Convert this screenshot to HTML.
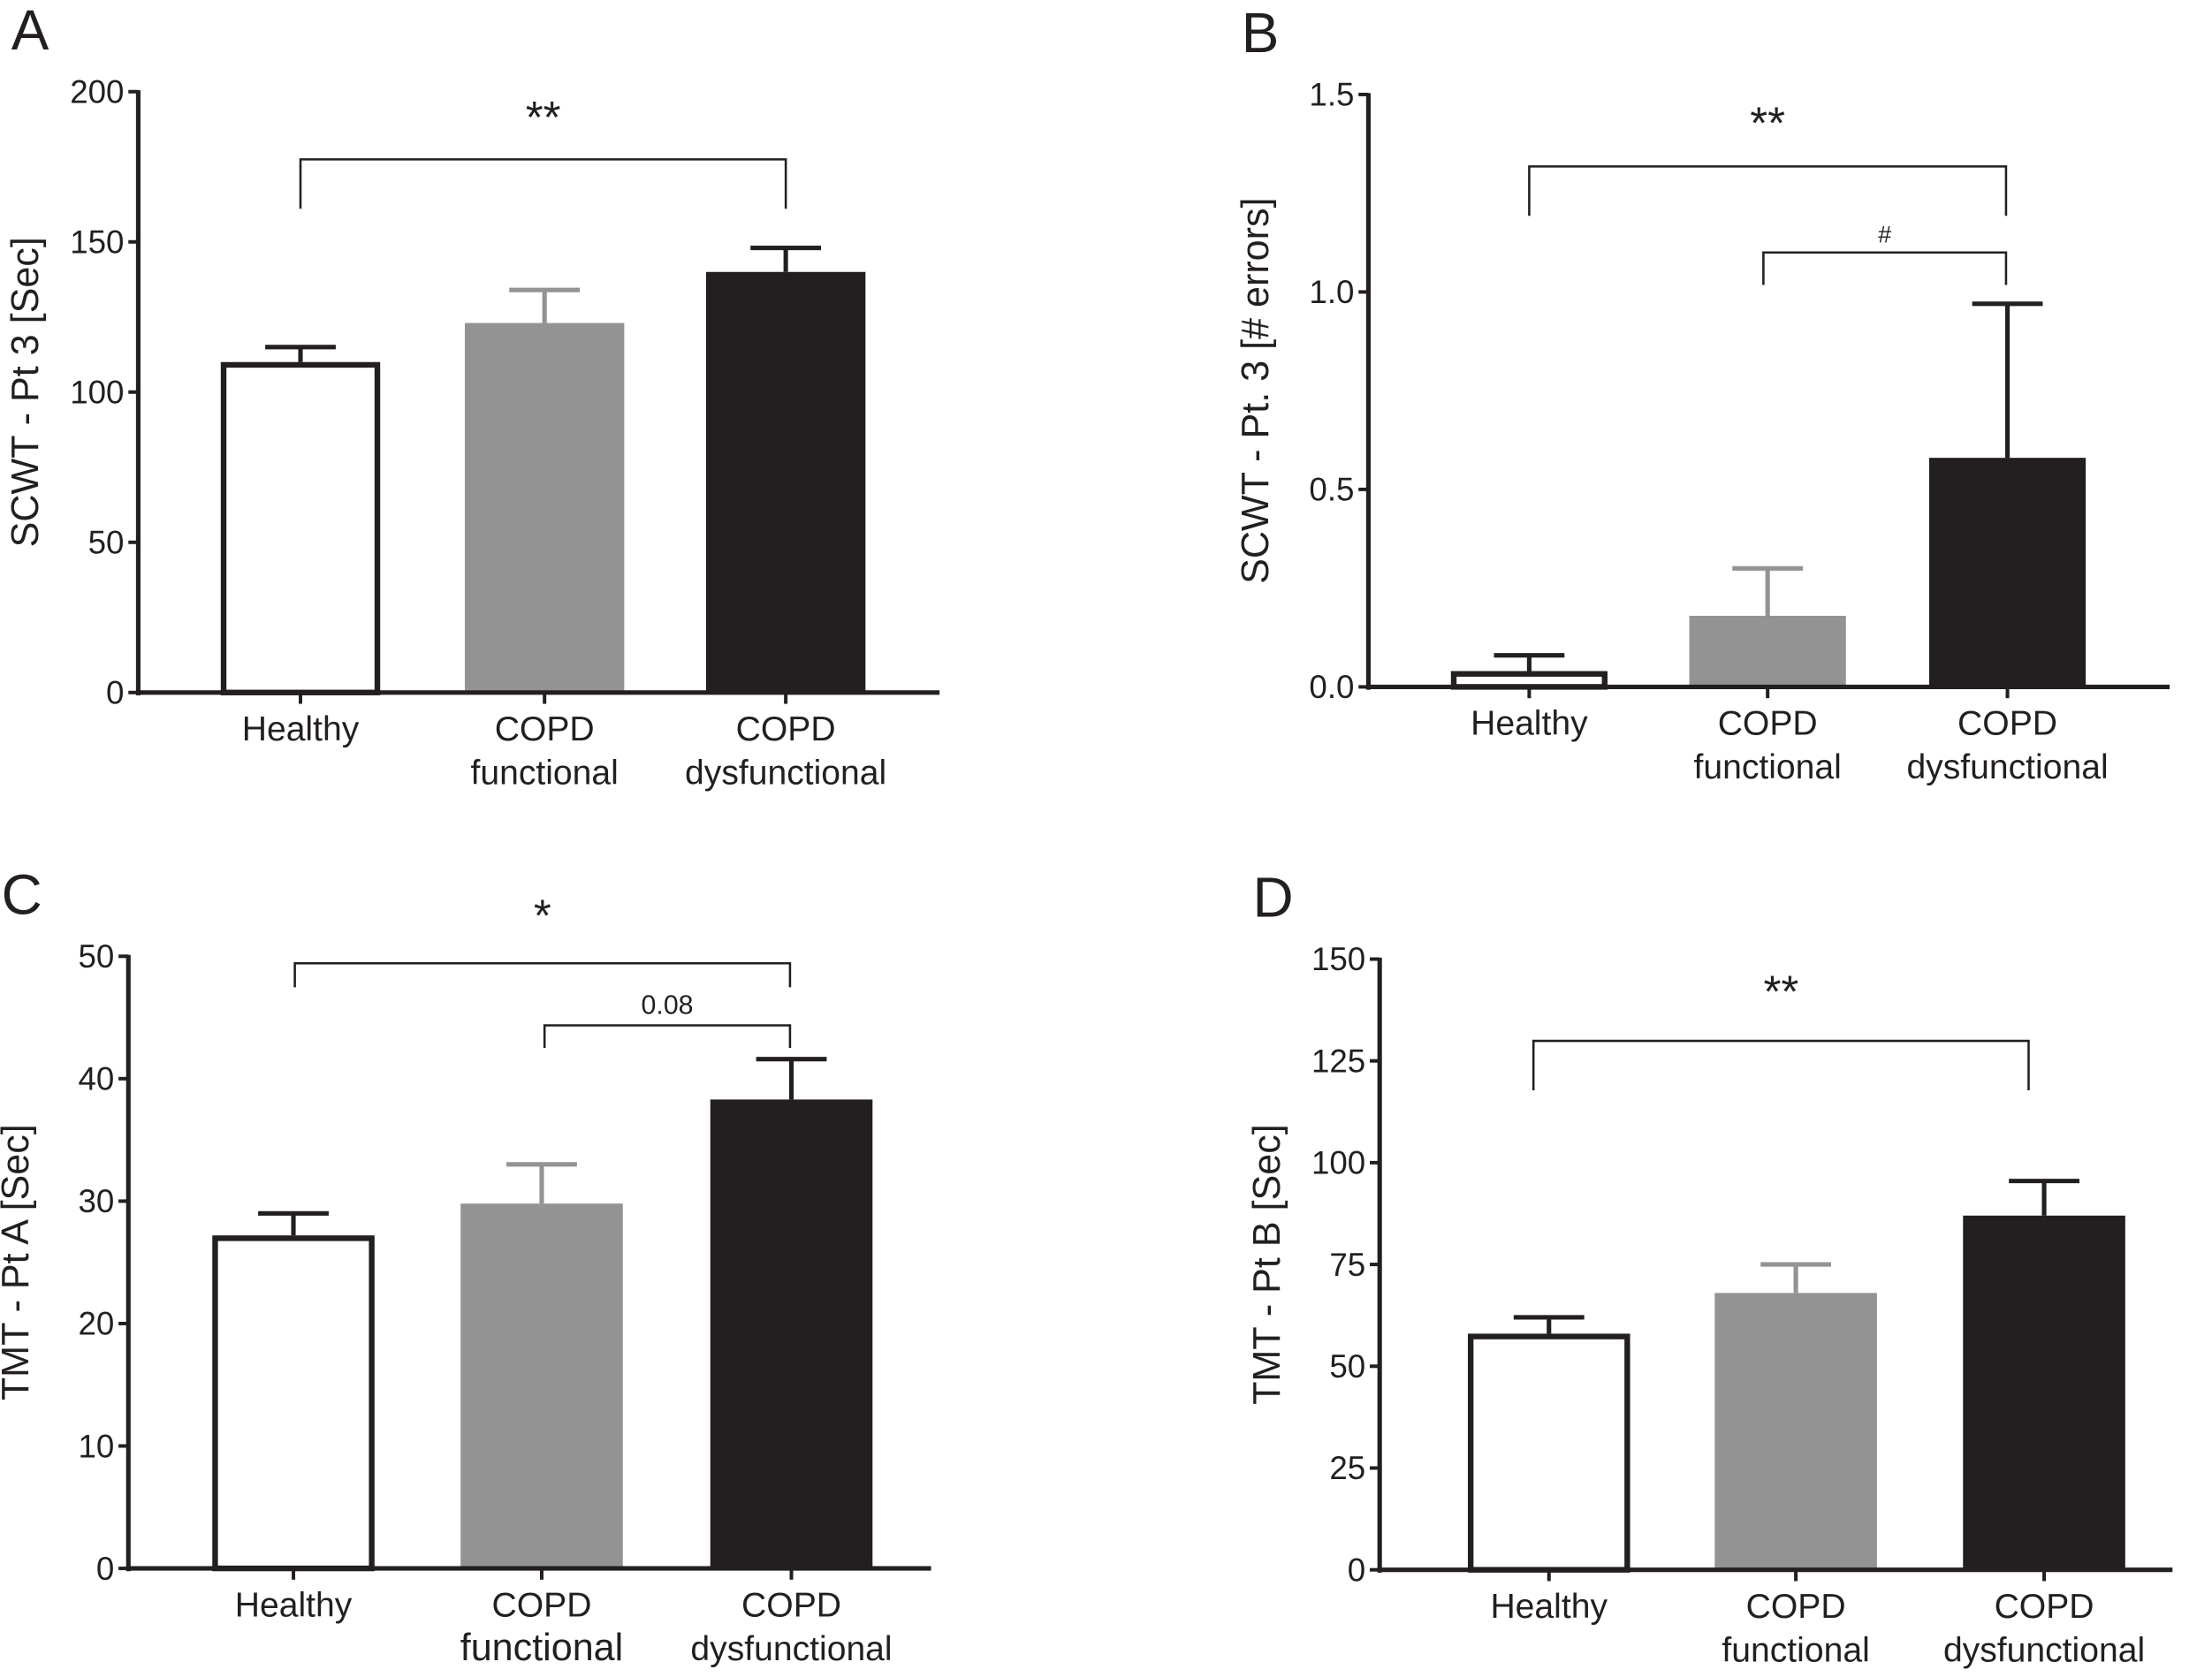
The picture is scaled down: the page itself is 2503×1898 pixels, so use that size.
<!DOCTYPE html>
<html><head><meta charset="utf-8"><style>
html,body{margin:0;padding:0;background:#fff;}
svg{display:block;font-family:"Liberation Sans",Arial,sans-serif;}
</style></head><body>
<svg id="fig" width="2503" height="1898" viewBox="0 0 1568 1189" preserveAspectRatio="none" xmlns="http://www.w3.org/2000/svg"></svg>
<script>
const categories = [["Healthy"],["COPD","functional"],["COPD","dysfunctional"]];
const valuesA = [110, 123, 140];
const errorsA = [115, 134, 148];
const ticksA = [0, 50, 100, 150, 200];
const valuesB = [0.04, 0.18, 0.58];
const errorsB = [0.08, 0.30, 0.97];
const ticksB = [0.0, 0.5, 1.0, 1.5];
const tickLabelsB = ["0.0","0.5","1.0","1.5"];
const valuesC = [27.2, 29.8, 38.3];
const errorsC = [29.0, 33.0, 41.6];
const ticksC = [0, 10, 20, 30, 40, 50];
const valuesD = [58, 68, 87];
const errorsD = [62, 75, 95.5];
const ticksD = [0, 25, 50, 75, 100, 125, 150];

const svg = document.getElementById('fig');
const NS = 'http://www.w3.org/2000/svg';
function el(tag, attrs, parent){
  const e = document.createElementNS(NS, tag);
  for (const k in attrs) e.setAttribute(k, attrs[k]);
  (parent||svg).appendChild(e);
  return e;
}
const fills = ['#ffffff','#939393','#231f20'];
const errCol = ['#231f20','#939393','#231f20'];

function panel(p){
  const g = el('g', {});
  
  
  const y = v => p.y0 - (v - p.min) / (p.max - p.min) * (p.y0 - p.y1);
  const L = el('text', {x:p.ax-90, y:p.y1-30, 'font-size':40, fill:'#231f20'}, g);
  L.textContent = p.letter;
  
  
  const ya = el('line', {x1:p.ax, y1:p.y1-1, x2:p.ax, y2:p.y0+2, stroke:'#231f20','stroke-width':3.2}, g);
  
  
  p.ticks.forEach((t,i)=>{
    el('line', {x1:p.ax-7, y1:y(t), x2:p.ax, y2:y(t), stroke:'#231f20','stroke-width':2.5}, g);
    const tt = el('text', {x:p.ax-10, y:y(t)+8, 'font-size':23, 'text-anchor':'end', fill:'#231f20'}, g);
    tt.textContent = p.tickLabels ? p.tickLabels[i] : t;
    
    
  });
  const yt = el('text', {x:0, y:0, 'font-size':27, 'text-anchor':'middle', fill:'#231f20',
    transform:`translate(${p.ax-71},${(p.y0+p.y1)/2}) rotate(-90)`}, g);
  yt.textContent = p.title;
  
  
  p.values.forEach((v,i)=>{
    const cx = p.centers[i], w = p.bw;
    const top = y(v), et = y(p.errors[i]);
    const eb = el('line', {x1:cx, y1:top, x2:cx, y2:et, stroke:errCol[i], 'stroke-width':3.2}, g);
    
    
    el('line', {x1:cx-25, y1:et, x2:cx+25, y2:et, stroke:errCol[i], 'stroke-width':3.2}, g);
    let r;
    if (i===0) r = el('rect', {x:cx-w/2+2, y:top+2, width:w-4, height:Math.max(0,p.y0-top-2), fill:'#fff', stroke:'#231f20','stroke-width':4}, g);
    else r = el('rect', {x:cx-w/2, y:top, width:w, height:p.y0-top, fill:fills[i]}, g);
    
    
    el('line', {x1:cx, y1:p.y0, x2:cx, y2:p.y0+8, stroke:'#231f20','stroke-width':2.5}, g);
    categories[i].forEach((s,j)=>{
      const t = el('text', {x:cx, y:p.y0+34+j*31, 'font-size':(p.bigFunc && j===1 && i===1)?27:24.5, 'text-anchor':'middle', fill:'#231f20'}, g);
      t.textContent = s;
      
      
    });
  });
  const xa = el('line', {x1:p.ax-1.5, y1:p.y0, x2:p.xEnd, y2:p.y0, stroke:'#231f20','stroke-width':3.2}, g);
  
  
  p.brackets.forEach(b=>{
    const br = el('path', {d:`M${b.x1},${b.yb} V${b.y} H${b.x2} V${b.yb}`, fill:'none', stroke:'#231f20','stroke-width':1.6}, g);
    
    
    const t = el('text', {x:(b.x1+b.x2)/2, y:b.ty, 'font-size':b.fs, 'text-anchor':'middle', fill:'#231f20'}, g);
    t.textContent = b.label;
    
    
  });
}

panel({letter:'A', ax:98, y0:491, y1:65, min:0, max:200, ticks:ticksA, values:valuesA, errors:errorsA,
  centers:[213,386,557], bw:113, xEnd:666, title:'SCWT - Pt 3 [Sec]',
  brackets:[{x1:213,x2:557,y:113,yb:148,label:'**',ty:94,fs:32}]});
panel({letter:'B', ax:970, y0:487, y1:67, min:0, max:1.5, ticks:ticksB, tickLabels:tickLabelsB, values:valuesB, errors:errorsB,
  centers:[1084,1253,1423], bw:111, xEnd:1538, title:'SCWT - Pt. 3 [# errors]',
  brackets:[{x1:1084,x2:1422,y:118,yb:153,label:'**',ty:98,fs:32},
            {x1:1250,x2:1422,y:179,yb:202,label:'#',ty:172,fs:17}]});
panel({letter:'C', ax:91, y0:1112, y1:678, min:0, max:50, ticks:ticksC, values:valuesC, errors:errorsC,
  centers:[208,384,561], bw:115, xEnd:660, title:'TMT - Pt A [Sec]', bigFunc:true,
  brackets:[{x1:209,x2:560,y:683,yb:700,label:'*',ty:660,fs:32},
            {x1:386,x2:560,y:727,yb:743,label:'0.08',ty:719,fs:19}]});
panel({letter:'D', ax:978, y0:1113, y1:680, min:0, max:150, ticks:ticksD, values:valuesD, errors:errorsD,
  centers:[1098,1273,1449], bw:115, xEnd:1540, title:'TMT - Pt B [Sec]',
  brackets:[{x1:1087,x2:1438,y:738,yb:773,label:'**',ty:714,fs:32}]});
</script>
</body></html>
